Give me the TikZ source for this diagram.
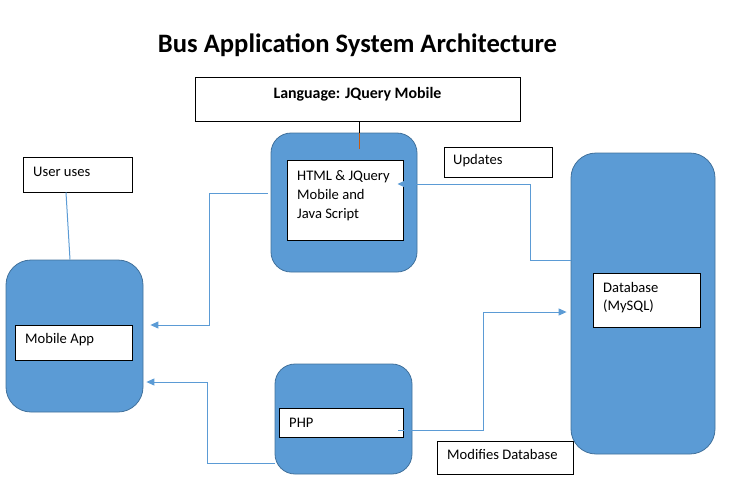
\documentclass[tikz,border=0pt]{standalone}
\usepackage{fontspec}
\setmainfont{Carlito}
\usetikzlibrary{arrows.meta,fit}
\definecolor{officeblue}{HTML}{5B9BD5}
\definecolor{officeedge}{HTML}{41719C}
\definecolor{linkblue}{HTML}{5B9BD5}
\definecolor{stemorange}{HTML}{C55A11}
\begin{document}
\begin{tikzpicture}[x=1pt,y=-1pt,
  bluebox/.style={draw=officeedge, fill=officeblue, rounded corners=22pt, line width=0.8pt, inner sep=0pt},
  whitebox/.style={draw=black, fill=white, line width=0.9pt, inner sep=0pt},
  lbl/.style={anchor=base west, inner sep=0pt, font=\fontsize{14.6}{17}\selectfont},
  conn/.style={draw=linkblue, line width=1pt, -{Triangle[length=8pt,width=7pt]}},
  plainlink/.style={draw=linkblue, line width=1pt}]
\useasboundingbox (0,0) rectangle (731,499);
% title
\node[anchor=base, inner sep=0pt, font=\bfseries\fontsize{26.6}{31}\selectfont] (title) at (357.5,52) {Bus Application System Architecture};
% language box
\node[whitebox, fit={(195,77) (520,121)}] (langbox) {};
\node[anchor=base, inner sep=0pt, font=\bfseries\fontsize{15.9}{18}\selectfont] (langtxt) at (357.5,98) {Language: JQuery Mobile};
% html block
\node[bluebox, rounded corners=20pt, fit={(271,133) (417,272)}] (htmlblue) {};
\node[whitebox, fit={(287,160) (403,240)}] (htmlbox) {};
\node[lbl] (html1) at (297,180) {HTML \& JQuery};
\node[lbl] (html2) at (297,199) {Mobile and};
\node[lbl] (html3) at (297,218) {Java Script};
% stem from language box
\draw[black, line width=0.9pt] (langbox.south -| 359,0) -- (htmlblue.north -| 359,0);
\draw[stemorange, line width=0.9pt] (htmlblue.north -| 359,0) -- (359,149);
% updates
\node[whitebox, fit={(444,147) (552,177)}] (updbox) {};
\node[lbl] (updtxt) at (453,164) {Updates};
% user uses
\node[whitebox, fit={(23,157) (132,192)}] (userbox) {};
\node[lbl] (usertxt) at (33,176) {User uses};
% mobile block
\node[bluebox, rounded corners=25pt, fit={(6,260) (143,412)}] (mobblue) {};
\node[whitebox, fit={(15,325) (132,360)}] (mobbox) {};
\node[lbl] (mobtxt) at (25,343) {Mobile App};
% php block
\node[bluebox, rounded corners=20pt, fit={(275,364) (412,474)}] (phpblue) {};
\node[whitebox, fit={(279,408) (403,437)}] (phpbox) {};
\node[lbl] (phptxt) at (289,427) {PHP};
% modifies database
\node[whitebox, fit={(437,441) (573,474)}] (modbox) {};
\node[lbl] (modtxt) at (447,459) {Modifies Database};
% database block
\node[bluebox, rounded corners=25pt, fit={(571,153) (715,454)}] (dbblue) {};
\node[whitebox, fit={(593,273) (700,327)}] (dbbox) {};
\node[lbl] (dbtxt1) at (603,292) {Database};
\node[lbl] (dbtxt2) at (603,310) {(MySQL)};
% connectors
\draw[plainlink] (userbox.south -| 66,0) -- (mobblue.north -| 70,0);
\draw[conn] ([yshift=43.5pt]dbblue.west) -| (530,184) -- ([xshift=-6pt,yshift=16pt]htmlbox.east);
\draw[conn] ([xshift=-3pt,yshift=9.5pt]htmlblue.west) -| (209,325) -- ([xshift=7pt,yshift=11pt]mobblue.east);
\draw[conn] ([yshift=-44pt]phpblue.west) -| (207,382) -- ([xshift=3pt,yshift=-46pt]mobblue.east);
\draw[conn] ([xshift=-5pt,yshift=-7.5pt]phpbox.east) -| (483,312) -- ([xshift=-4pt,yshift=-8.5pt]dbblue.west);
\end{tikzpicture}
\end{document}
